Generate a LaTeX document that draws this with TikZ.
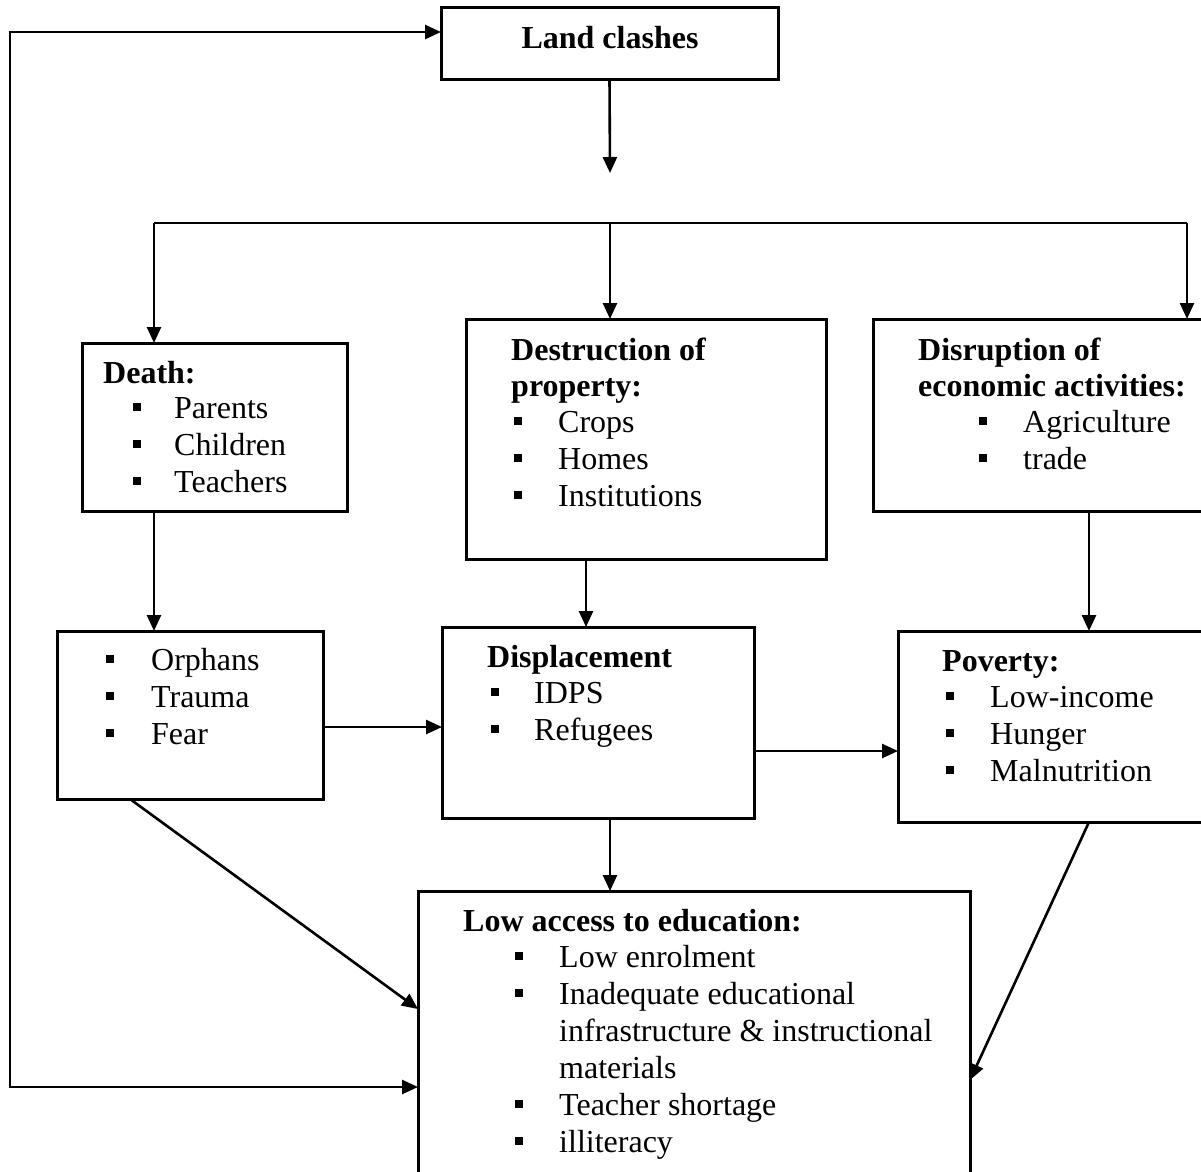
\documentclass[tikz,border=0pt]{standalone}
\usepackage{fontspec}
\setmainfont{Liberation Serif}
\usetikzlibrary{arrows.meta}
\newcommand\bline[5]{%
  \node[bul] (#1b) at (#2+3.5,#4-11.5) {};
  \node[txt] (#1) at (#3,#4) {#5};}
\tikzset{
  box/.style={draw, line width=3pt, inner sep=0pt, outer sep=0pt, anchor=north west},
  txt/.style={anchor=base west, inner sep=0pt, font=\fontsize{32}{37}\selectfont},
  bul/.style={fill, minimum size=8pt, inner sep=0pt, outer sep=0pt},
  conn/.style={line width=2.6pt},
  arr/.style={line width=2.6pt, -{Triangle[length=16pt,width=14pt]}},
  darr/.style={line width=2.6pt, {Triangle[length=16pt,width=14pt]}-{Triangle[length=16pt,width=14pt]}}
}
\begin{document}
\begin{tikzpicture}[x=1pt,y=-1pt]
\useasboundingbox (0,0) rectangle (1201,1171);
\fill[white] (0,0) rectangle (1201,1171);
\begin{scope}
\clip (0,0) rectangle (1201,1171);
% boxes
\node[box, minimum width=337pt, minimum height=72pt] (land) at (441,7) {};
\node[box, minimum width=265pt, minimum height=168pt] (death) at (82,343) {};
\node[box, minimum width=360pt, minimum height=240pt] (destr) at (466,319) {};
\node[box, minimum width=340pt, minimum height=192pt] (disr) at (873,319) {};
\node[box, minimum width=266pt, minimum height=168pt] (orph) at (57,631) {};
\node[box, minimum width=312pt, minimum height=191pt] (disp) at (442,627) {};
\node[box, minimum width=320pt, minimum height=191pt] (pov) at (898,631) {};
\node[box, minimum width=552pt, minimum height=300pt] (low) at (418,891) {};
% texts
\node[txt, anchor=base] (tland) at (610,48) {\bfseries Land clashes};
\node[txt] (tdeath) at (103,383) {\bfseries Death:};
\bline{dpar}{133}{174}{418}{Parents}
\bline{dchi}{133}{174}{455}{Children}
\bline{dtea}{133}{174}{492}{Teachers}
\node[txt] (tdes1) at (511,360) {\bfseries Destruction of};
\node[txt] (tdes2) at (511,396) {\bfseries property:};
\bline{pcro}{514}{558}{432}{Crops}
\bline{phom}{514}{558}{469}{Homes}
\bline{pins}{514}{558}{506}{Institutions}
\node[txt] (tdis1) at (918,360) {\bfseries Disruption of};
\node[txt] (tdis2) at (918,396) {\bfseries economic activities:};
\bline{eagr}{979}{1023}{432}{Agriculture}
\bline{etra}{979}{1023}{469}{trade}
\bline{oorp}{106}{151}{670}{Orphans}
\bline{otra}{106}{151}{707}{Trauma}
\bline{ofea}{106}{151}{744}{Fear}
\node[txt] (tdisp) at (487,667) {\bfseries Displacement};
\bline{iidp}{491}{534}{703}{IDPS}
\bline{iref}{491}{534}{740}{Refugees}
\node[txt] (tpov) at (942,671) {\bfseries Poverty:};
\bline{vlow}{946}{990}{707}{Low-income}
\bline{vhun}{946}{990}{744}{Hunger}
\bline{vmal}{946}{990}{781}{Malnutrition}
\node[txt] (tlow) at (463,931) {\bfseries Low access to education:};
\bline{lenr}{515}{559}{967}{Low enrolment}
\bline{linad}{515}{559}{1004}{Inadequate educational}
\node[txt] (linf) at (559,1041) {infrastructure \& instructional};
\node[txt] (lmat) at (559,1078) {materials};
\bline{ltea}{515}{559}{1115}{Teacher shortage}
\bline{lill}{515}{559}{1152}{illiteracy}
% connectors
\coordinate (landend) at (610,173);
\coordinate (sL) at (154,223);
\coordinate (sM) at (610,223);
\coordinate (sR) at (1187,223);
\coordinate (loopB) at (10,1087);
\coordinate (loopT) at (10,32);
\draw[arr] (land.south) -- (landend);
\draw[conn] (sL) -- (sR);
\draw[arr] (sL) -- (sL |- death.north);
\draw[arr] (sM) -- (sM |- destr.north);
\draw[arr] (sR) -- (sR |- disr.north);
\draw[arr] (death.south -| sL) -- (sL |- orph.north);
\draw[arr] ([xshift=-60pt]destr.south) -- ([xshift=-60pt]destr.south |- disp.north);
\draw[arr] ([xshift=12pt]disp.south) -- ([xshift=12pt]disp.south |- low.north);
\draw[arr] ([xshift=46pt]disr.south) -- ([xshift=46pt]disr.south |- pov.north);
\draw[arr] ([yshift=-12pt]orph.east) -- ([yshift=-12pt]orph.east -| disp.west);
\draw[arr] ([yshift=-28.5pt]disp.east) -- ([yshift=-28.5pt]disp.east -| pov.west);
\draw[arr] ([xshift=-60pt]orph.south) -- ([yshift=32pt]low.west);
\draw[arr] ([xshift=31pt]pov.south) -- ([yshift=-39pt]low.east);
\draw[darr] ([yshift=-46pt]low.west) -- (loopB) -- (loopT) -- (loopT -| land.west);
\end{scope}
\end{tikzpicture}
\end{document}
